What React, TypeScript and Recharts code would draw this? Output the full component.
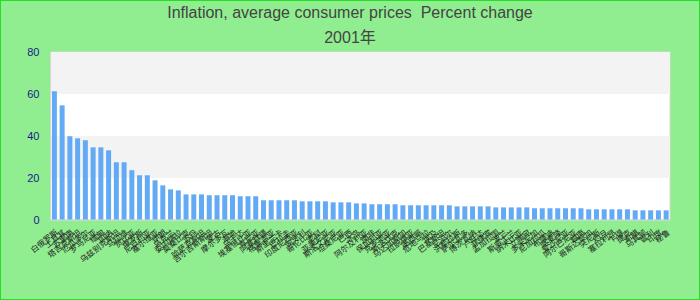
import { BarChart, Bar, XAxis, YAxis, ReferenceArea } from "recharts";

document.body.style.margin = "0";

const countries = [
  "白俄罗斯", "土耳其", "苏里南", "塔吉克斯坦", "厄瓜多尔", "罗马尼亚", "缅甸", "加纳",
  "乌兹别克斯坦", "马拉维", "赞比亚", "俄罗斯", "尼日利亚", "塞尔维亚", "伊朗", "乌克兰",
  "委内瑞拉", "莫桑比克", "苏丹", "哈萨克斯坦", "吉尔吉斯斯坦", "蒙古", "摩尔多瓦", "海地",
  "乌干达", "埃塞俄比亚", "肯尼亚", "阿塞拜疆", "格鲁吉亚", "斯里兰卡", "巴拉圭", "印度尼西亚",
  "匈牙利", "哥伦比亚", "老挝", "亚美尼亚", "斯洛文尼亚", "坦桑尼亚", "巴西", "冰岛",
  "阿尔及利亚", "南非", "保加利亚", "克罗地亚", "斯洛伐克", "马达加斯加", "拉脱维亚", "墨西哥",
  "危地马拉", "埃及", "巴基斯坦", "尼泊尔", "洪都拉斯", "萨尔瓦多", "博茨瓦纳", "卢旺达",
  "菲律宾", "孟加拉国", "波兰", "斯威士兰", "纳米比亚", "立陶宛", "多米尼加", "尼加拉瓜",
  "布隆迪", "喀麦隆", "爱沙尼亚", "阿尔巴尼亚", "越南", "哥斯达黎加", "突尼斯", "约旦",
  "塞拉利昂", "乍得", "捷克", "希腊", "马其顿", "智利", "印度", "秘鲁",
];

const inflation = [
  61.3, 54.6, 39.9, 38.9, 38.0, 34.6, 34.6, 33.2,
  27.5, 27.5, 23.7, 21.3, 21.3, 18.9, 16.5, 14.6,
  14.1, 12.2, 12.2, 12.2, 11.8, 11.8, 11.8, 11.8,
  11.3, 11.3, 11.3, 9.4, 9.4, 9.4, 9.4, 9.4,
  8.9, 8.9, 8.9, 8.9, 8.4, 8.4, 8.4, 7.9,
  7.9, 7.5, 7.5, 7.5, 7.5, 7.0, 7.0, 7.0,
  7.0, 7.0, 7.0, 7.0, 6.5, 6.5, 6.5, 6.5,
  6.5, 6.0, 6.0, 6.0, 6.0, 6.0, 5.6, 5.6,
  5.6, 5.6, 5.6, 5.6, 5.6, 5.1, 5.1, 5.1,
  5.1, 5.1, 5.1, 4.6, 4.6, 4.6, 4.6, 4.6,
];

const yTicks = [0, 20, 40, 60, 80];

const data = countries.map((name, i) => ({ name, value: inflation[i] }));

const FONT = "'Liberation Sans', Arial, 'Noto Sans CJK SC', sans-serif";

function CountryTick(props: any) {
  const { x, y, payload } = props;
  return (
    <text
      x={x}
      y={y}
      transform={`rotate(-38, ${x}, ${y})`}
      textAnchor="end"
      dy={7}
      fontSize={8}
      fill="#222"
      fontFamily={FONT}
    >
      {payload.value}
    </text>
  );
}

const titleStyle = {
  position: "absolute" as const,
  left: 0,
  width: 698,
  textAlign: "center" as const,
  fontSize: 16,
  color: "#444",
};

export default function App() {
  return (
    <div
      style={{
        position: "relative",
        width: 700,
        height: 300,
        boxSizing: "border-box",
        border: "1px solid #22e022",
        background: "#90ee90",
        fontFamily: FONT,
      }}
    >
      <div style={{ ...titleStyle, top: 3 }}>Inflation, average consumer prices&nbsp; Percent change</div>
      <div style={{ ...titleStyle, top: 23 }}>2001年</div>
      <BarChart
        width={698}
        height={298}
        data={data}
        margin={{ top: 51, right: 29, bottom: 0, left: 0 }}
        barCategoryGap="18%"
      >
        <ReferenceArea y1={0} y2={80} fill="#ffffff" fillOpacity={1} stroke="#d6d6d6" strokeWidth={1} />
        <ReferenceArea y1={20} y2={40} fill="#f3f3f3" fillOpacity={1} />
        <ReferenceArea y1={60} y2={80} fill="#f3f3f3" fillOpacity={1} />
        <XAxis
          dataKey="name"
          interval={0}
          tick={<CountryTick />}
          tickLine={false}
          axisLine={{ stroke: "#d6d6d6" }}
          height={79}
        />
        <YAxis
          domain={[0, 80]}
          ticks={yTicks}
          width={49.5}
          tickLine={false}
          axisLine={{ stroke: "#d6d6d6" }}
          tickSize={0}
          tickMargin={11}
          tick={{ fill: "#1a1a8a", fontSize: 11, fontFamily: FONT }}
        />
        <Bar dataKey="value" fill="#63aaf5" isAnimationActive={false} />
      </BarChart>
    </div>
  );
}
